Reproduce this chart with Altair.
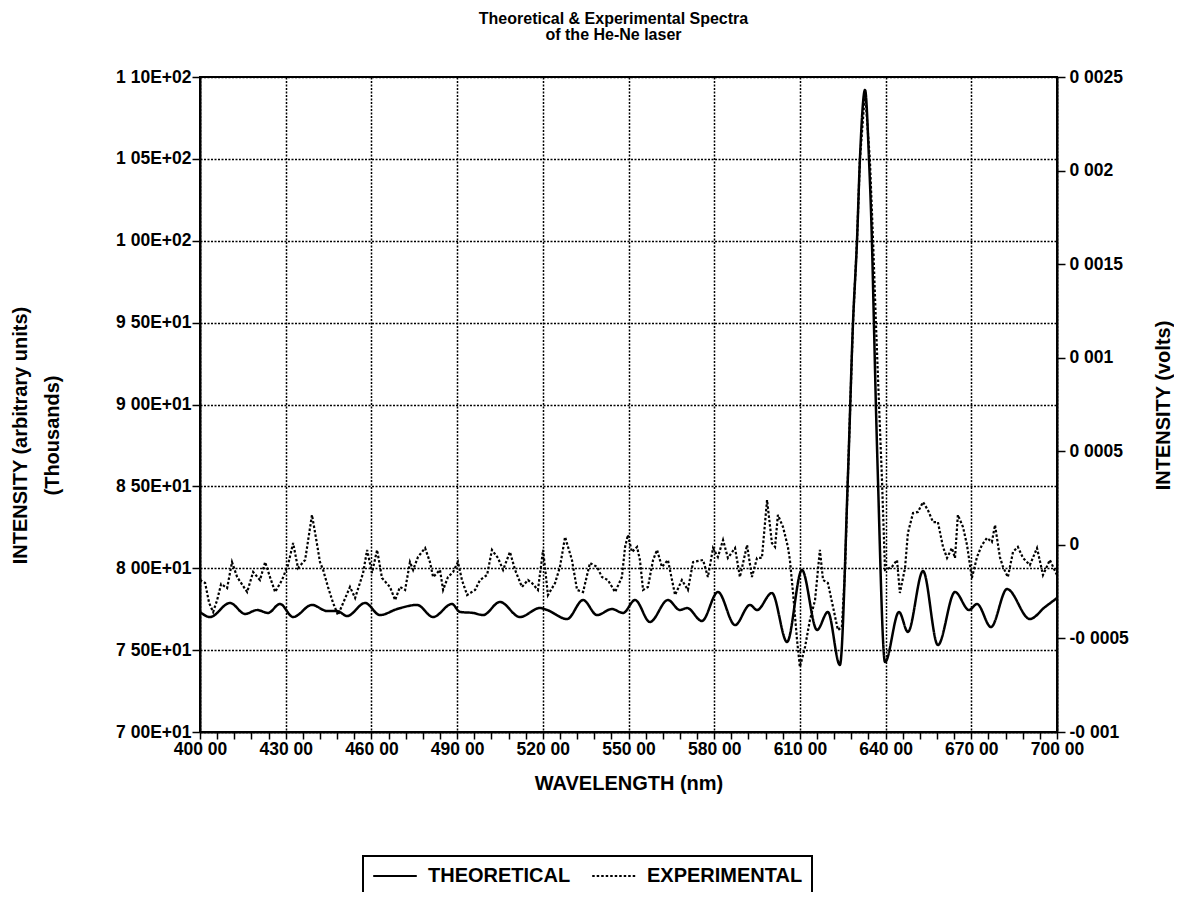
import altair as alt
import pandas as pd

# ---------------- data ----------------
series_names = ["THEORETICAL", "EXPERIMENTAL"]

# Theoretical spectrum (left axis, arbitrary units, thousands)
theo_nm = [400.0, 403.5, 410.5, 415.8, 420.0, 423.8, 428.0, 432.6, 439.2, 444.5,
           448.0, 451.5, 457.8, 463.0, 469.0, 476.0, 481.6, 488.2, 491.0, 495.6,
           499.1, 505.0, 512.0, 519.0, 521.5, 528.5, 534.1, 539.0, 544.2, 548.1,
           552.3, 557.5, 563.8, 568.0, 570.5, 575.7, 581.3, 587.3, 592.5, 595.0,
           600.2, 605.5, 610.7, 616.0, 619.8, 624.0, 626.8, 628.6, 630.0, 631.0,
           632.8, 634.2, 635.2, 635.9, 636.6, 637.3, 639.8, 644.7, 647.8, 653.1,
           658.3, 664.3, 669.2, 672.0, 676.9, 682.5, 690.5, 695.8, 700.0]
theo_val = [77.33, 77.02, 77.88, 77.21, 77.45, 77.27, 77.82, 77.02, 77.76, 77.39,
            77.39, 77.08, 77.88, 77.14, 77.51, 77.76, 77.02, 77.82, 77.33, 77.27,
            77.14, 77.94, 77.02, 77.57, 77.45, 76.90, 78.06, 77.14, 77.51, 77.27,
            78.06, 76.72, 78.06, 77.45, 77.57, 76.78, 78.55, 76.53, 77.76, 77.45,
            78.49, 75.50, 79.89, 76.23, 77.33, 74.09, 85.57, 95.04, 100.05, 104.93,
            109.21, 104.93, 100.05, 95.04, 89.97, 85.57, 74.27, 77.33, 76.11, 79.83,
            75.31, 78.55, 77.45, 77.82, 76.41, 78.73, 76.90, 77.63, 78.18]

# Experimental spectrum (right axis), in microvolts
exp_nm = [400.0, 401.8, 403.2, 404.6, 406.0, 407.4, 409.5, 411.2, 413.0, 416.5,
          418.6, 421.0, 422.8, 424.5, 426.3, 428.7, 430.8, 432.6, 434.3, 436.8,
          439.2, 440.6, 442.0, 443.1, 444.8, 446.6, 448.3, 450.1, 452.5, 454.3,
          457.1, 458.5, 460.2, 462.0, 463.7, 466.5, 468.3, 470.0, 471.8, 473.5,
          474.6, 476.3, 478.8, 480.5, 481.6, 484.0, 485.1, 486.8, 488.6, 490.3,
          491.7, 493.5, 496.3, 498.0, 500.5, 502.2, 504.3, 506.1, 508.5, 510.3,
          512.7, 514.8, 516.2, 518.3, 520.1, 521.8, 524.3, 526.0, 527.8, 530.2,
          532.0, 534.1, 536.5, 539.0, 540.7, 542.8, 545.3, 547.7, 548.8, 549.8,
          551.2, 553.0, 554.0, 555.1, 556.8, 558.6, 560.0, 561.7, 563.8, 566.3,
          568.7, 570.8, 572.6, 576.1, 577.8, 579.6, 581.3, 583.1, 584.8, 587.3,
          589.0, 591.5, 593.2, 595.0, 596.7, 598.5, 600.2, 601.3, 602.3, 604.1,
          605.8, 606.5, 607.6, 609.0, 610.0, 611.8, 613.5, 615.3, 617.0, 618.1,
          619.8, 621.6, 623.3, 624.7, 625.8, 626.8, 628.6, 630.0, 631.0, 632.8,
          634.5, 635.6, 636.6, 637.7, 638.7, 639.8, 642.2, 644.0, 645.0, 646.8,
          647.8, 649.6, 651.3, 653.1, 654.8, 656.6, 658.3, 660.1, 661.5, 663.2,
          664.3, 665.3, 667.1, 668.5, 670.2, 672.0, 673.7, 675.5, 677.2, 678.3,
          680.0, 681.1, 682.8, 684.6, 686.3, 688.1, 690.5, 693.0, 695.1, 697.5,
          700.0]
exp_uV = [-188, -204, -311, -359, -295, -209, -231, -92, -172, -252,
          -145, -188, -92, -172, -252, -188, -108, 10, -124, -81,
          160, 37, -92, -134, -225, -311, -375, -311, -225, -284,
          -150, -27, -150, -27, -177, -225, -295, -225, -241, -92,
          -134, -65, -17, -92, -172, -134, -241, -172, -145, -92,
          -188, -268, -241, -188, -161, -27, -70, -134, -38, -134,
          -225, -188, -204, -241, -27, -268, -204, -118, 42, -81,
          -241, -252, -97, -118, -172, -188, -252, -172, -11, 53,
          -38, -11, -81, -241, -225, -81, -27, -118, -81, -268,
          -188, -241, -92, -81, -172, -17, -65, 26, -70, -17,
          -172, -1, -172, -70, -70, 240, 10, -11, 160, 95,
          -11, -81, -257, -508, -653, -546, -402, -295, -27, -188,
          -204, -332, -455, -439, -134, 363, 1191, 1629, 2057, 2420,
          2057, 1629, 1191, 747, 363, -134, -118, -81, -257, -124,
          63, 170, 176, 229, 186, 122, 122, -11, -70, -17,
          -70, 160, 95, -1, -177, -65, -1, 37, 15, 106,
          -65, -118, -172, -38, -11, -70, -108, -17, -161, -81,
          -161]
exp_volts = [v / 1e6 for v in exp_uV]

x_ticks = list(range(400, 701, 6))
left_ticks = [70, 75, 80, 85, 90, 95, 100, 105, 110]
right_ticks = [-0.001, -0.0005, 0.0, 0.0005, 0.001, 0.0015, 0.002, 0.0025]

theo_df = pd.DataFrame({"nm": theo_nm, "value": theo_val, "series": series_names[0]})
exp_df = pd.DataFrame({"nm": exp_nm, "value": exp_volts, "series": series_names[1]})

FONT = "Liberation Sans, Arial, Helvetica, sans-serif"
TICK = 17.5
TTL = 20

x_enc = alt.X(
    "nm:Q",
    scale=alt.Scale(domain=[400, 700], nice=False, zero=False),
    axis=alt.Axis(
        values=x_ticks,
        tickCount=60,
        title="WAVELENGTH (nm)",
        labelExpr="(datum.value - 400) % 30 === 0 ? replace(format(datum.value, '.2f'), '.', ' ') : ''",
        labelOverlap=False,
        labelFlush=False,
        labelPadding=1,
        tickSize=7,
        grid=True,
        gridOpacity={"condition": {"test": "(datum.value - 400) % 30 === 0", "value": 1}, "value": 0},
        titleBaseline="top",
        titleY=41,
    ),
)

dash = alt.StrokeDash(
    "series:N",
    scale=alt.Scale(domain=series_names, range=[[1, 0], [2.5, 2]]),
    legend=alt.Legend(
        title=None,
        orient="none",
        legendX=163,
        legendY=779,
        direction="horizontal",
        symbolType="stroke",
        symbolSize=1900,
        symbolStrokeWidth=2,
        symbolStrokeColor="black",
        clipHeight=22,
        labelFontSize=TTL,
        labelFont=FONT,
        labelFontWeight="bold",
        labelColor="black",
        labelOffset=10,
        columnPadding=20,
        padding=9,
        strokeColor="black",
    ),
)

theo = alt.Chart(theo_df).mark_line(color="black", strokeWidth=2.5, interpolate="monotone").encode(
    x=x_enc,
    y=alt.Y(
        "value:Q",
        scale=alt.Scale(domain=[70, 110], nice=False, zero=False),
        axis=alt.Axis(
            orient="left",
            values=left_ticks,
            labelExpr="datum.value >= 100 ? replace(format(datum.value / 100, '.2f'), '.', ' ') + 'E+02' : replace(format(datum.value / 10, '.2f'), '.', ' ') + 'E+01'",
            title=["INTENSITY (arbitrary units)", "(Thousands)"],
            titleLineHeight=32,
            titleAngle=270,
            titleBaseline="top",
            titleX=-190,
            titleY=358,
            tickSize=8,
            labelPadding=1,
            grid=True,
        ),
    ),
    strokeDash=dash,
)

expt = alt.Chart(exp_df).mark_line(color="black", strokeWidth=2.2).encode(
    x=alt.X("nm:Q"),
    y=alt.Y(
        "value:Q",
        scale=alt.Scale(domain=[-0.001, 0.0025], nice=False, zero=False),
        axis=alt.Axis(
            orient="right",
            values=right_ticks,
            labelExpr="(datum.value < 0 ? '-' : '') + replace(format(abs(datum.value), '~g'), '.', ' ')",
            title="INTENSITY (volts)",
            titleAngle=270,
            titleBaseline="middle",
            titleX=106,
            titleY=328,
            tickSize=8,
            labelPadding=4,
            grid=False,
        ),
    ),
    strokeDash=dash,
)

chart = (
    alt.layer(theo, expt)
    .resolve_scale(y="independent")
    .properties(
        width=857,
        height=655,
        autosize=alt.AutoSizeParams(type="none"),
        padding={"left": 192, "top": 69, "right": 117, "bottom": 160},
        title=alt.TitleParams(
            ["Theoretical & Experimental Spectra", "of the He-Ne laser"],
            fontSize=16,
            font=FONT,
            fontWeight="bold",
            color="black",
            anchor="middle",
            offset=25,
            lineHeight=16,
            dx=-15,
        ),
    )
    .configure(background="white")
    .configure_view(stroke="black", strokeWidth=2)
    .configure_axis(
        labelFont=FONT,
        labelFontSize=TICK,
        labelFontWeight="bold",
        labelColor="black",
        titleFont=FONT,
        titleFontSize=TTL,
        titleFontWeight="bold",
        titleColor="black",
        domainColor="black",
        domainWidth=2,
        tickColor="black",
        tickWidth=1.5,
        gridColor="black",
        gridWidth=1.5,
        gridDash=[2, 1.5],
    )
    .configure_legend(strokeWidth=2)
)

chart.save("out.html", embed_options={"renderer": "svg", "actions": False})
